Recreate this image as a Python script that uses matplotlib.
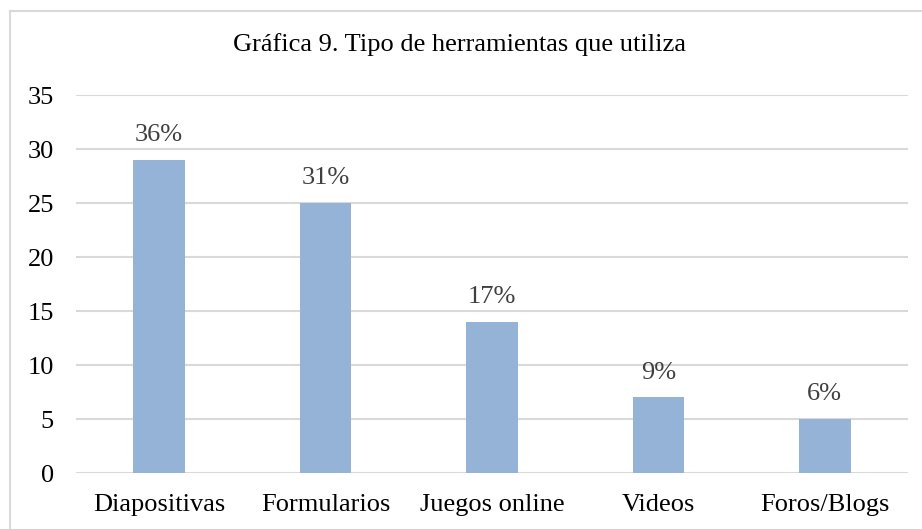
import matplotlib
matplotlib.use("Agg")
import matplotlib.pyplot as plt
from matplotlib.lines import Line2D
import numpy as np

plt.rcParams['font.family'] = ['Liberation Serif', 'DejaVu Serif']

categories = ['Diapositivas', 'Formularios', 'Juegos online', 'Videos', 'Foros/Blogs']
counts = [29, 25, 14, 7, 5]
percent_labels = ['36%', '31%', '17%', '9%', '6%']
title = 'Gráfica 9. Tipo de herramientas que utiliza'

W, H = 922, 529
fig = plt.figure(figsize=(W / 100, H / 100), dpi=100)

# chart frame (only left and top edge visible in the reference)
fig.add_artist(Line2D([10 / W, 10 / W], [0, 1 - 11 / H], color='#d9d9d9', lw=1.5))
fig.add_artist(Line2D([10 / W, 1], [1 - 11 / H, 1 - 11 / H], color='#d9d9d9', lw=1.5))

ax = fig.add_axes([76 / W, 1 - 473 / H, (908 - 76) / W, (473 - 95) / H])
x = np.arange(len(categories))
ax.bar(x, counts, width=0.31, color='#95b3d7', zorder=3)
for xi, v, lab in zip(x, counts, percent_labels):
    ax.annotate(lab, (xi, v), xytext=(0, 10), textcoords='offset points',
                ha='center', va='bottom', fontsize=19, color='#404040')

ax.set_xlim(-0.5, len(categories) - 0.5)
ax.set_ylim(0, 35)
ax.set_yticks(range(0, 36, 5))
ax.set_xticks(x)
ax.set_xticklabels(categories)
ax.grid(axis='y', color='#d9d9d9', lw=1.5, zorder=0)
for s in ax.spines.values():
    s.set_visible(False)
ax.tick_params(length=0, labelsize=19, colors='black')
ax.tick_params(axis='y', pad=16)
ax.tick_params(axis='x', pad=15)

fig.text(0.5 * (229 + 690) / W, 1 - 45 / H, title, ha='center', va='center', fontsize=19)

fig.savefig('out.png', dpi=100)
